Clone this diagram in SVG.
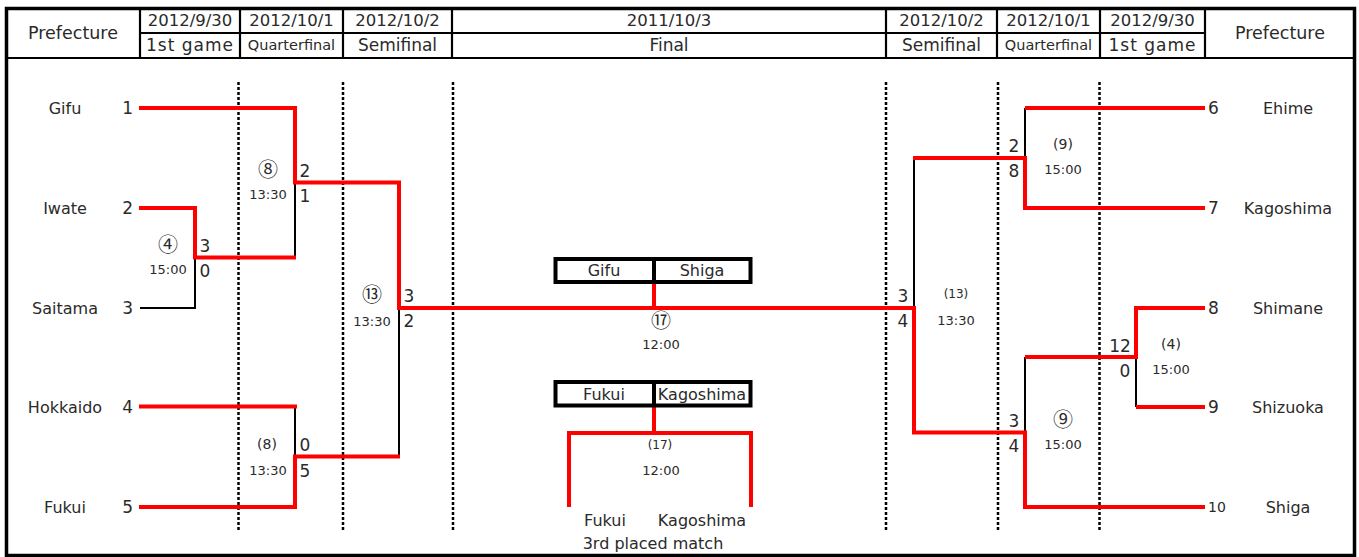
<svg xmlns="http://www.w3.org/2000/svg" width="1359" height="557" viewBox="0 0 1359 557">
<style>
text{font-family:"DejaVu Sans","Noto Sans CJK JP",sans-serif;fill:#2a2a2a;}
.hd{font-size:16.5px;text-anchor:middle;}
.h2{font-size:17px;text-anchor:middle;}
.qf{font-size:14.5px;text-anchor:middle;}
.pf{font-size:17.5px;text-anchor:middle;}
.nm{font-size:16px;text-anchor:middle;}
.nl{font-size:17px;text-anchor:end;}
.nr{font-size:17px;text-anchor:start;}
.sc{font-size:17px;text-anchor:middle;}
.tm{font-size:13px;text-anchor:middle;}
.cn{font-size:20px;text-anchor:middle;font-family:"Noto Sans CJK JP","DejaVu Sans",sans-serif;}
.pn{font-size:14px;text-anchor:middle;}
.ps{font-size:12px;text-anchor:middle;}
.grid{stroke:#000;stroke-width:2.5;stroke-dasharray:3 2;fill:none;}
.hl{stroke:#000;stroke-width:2.2;fill:none;}
.red{stroke:#ff0000;stroke-width:4;fill:none;stroke-linejoin:miter;}
.blk{stroke:#000;stroke-width:2;fill:none;}
.box{stroke:#000;stroke-width:4;fill:#fff;}
</style>
<rect width="1359" height="557" fill="#fff"/>
<g id="header">
<rect x="6.5" y="8.5" width="1348" height="547" fill="none" stroke="#000" stroke-width="3.5"/>
<line class="hl" x1="6" y1="58" x2="1355" y2="58" stroke-width="3"/>
<line class="hl" x1="140" y1="33" x2="1205" y2="33"/>
<line class="hl" x1="140" y1="8" x2="140" y2="58"/>
<line class="hl" x1="240" y1="8" x2="240" y2="58"/>
<line class="hl" x1="343" y1="8" x2="343" y2="58"/>
<line class="hl" x1="452" y1="8" x2="452" y2="58"/>
<line class="hl" x1="886" y1="8" x2="886" y2="58"/>
<line class="hl" x1="997" y1="8" x2="997" y2="58"/>
<line class="hl" x1="1100" y1="8" x2="1100" y2="58"/>
<line class="hl" x1="1205" y1="8" x2="1205" y2="58"/>
<text class="pf" x="73" y="39">Prefecture</text>
<text class="pf" x="1280" y="39">Prefecture</text>
<text class="hd" x="190" y="26">2012/9/30</text>
<text class="hd" x="291.5" y="26">2012/10/1</text>
<text class="hd" x="397.5" y="26">2012/10/2</text>
<text class="hd" x="669" y="26">2011/10/3</text>
<text class="hd" x="941.5" y="26">2012/10/2</text>
<text class="hd" x="1048.5" y="26">2012/10/1</text>
<text class="hd" x="1152.5" y="26">2012/9/30</text>
<text class="h2" x="190" y="51" letter-spacing="1">1st game</text>
<text class="qf" x="291.5" y="50">Quarterfinal</text>
<text class="h2" x="397.5" y="51">Semifinal</text>
<text class="h2" x="669" y="51">Final</text>
<text class="h2" x="941.5" y="51">Semifinal</text>
<text class="qf" x="1048.5" y="50">Quarterfinal</text>
<text class="h2" x="1152.5" y="51" letter-spacing="1">1st game</text>
</g>
<g id="grid">
<line class="grid" x1="238.5" y1="82" x2="238.5" y2="530"/>
<line class="grid" x1="343" y1="82" x2="343" y2="530"/>
<line class="grid" x1="453" y1="82" x2="453" y2="530"/>
<line class="grid" x1="886" y1="82" x2="886" y2="530"/>
<line class="grid" x1="998" y1="82" x2="998" y2="530"/>
<line class="grid" x1="1099.5" y1="82" x2="1099.5" y2="530"/>
</g>
<g id="connectors">
<path class="blk" d="M140,308 H195 V257.5"/>
<path class="blk" d="M295,182.5 V257.5"/>
<path class="blk" d="M295,406.5 V456.5"/>
<path class="blk" d="M399,308 V456.5"/>
<path class="blk" d="M914,158 V308"/>
<path class="blk" d="M1025,108 V158"/>
<path class="blk" d="M1025,357 V432"/>
<path class="blk" d="M1136,357 V407"/>
<path class="red" d="M139,108 H295 V182.5 H399 V308 H914 V432.5 H1025 V507 H1205"/>
<path class="red" d="M139,208 H195 V257.5 H296"/>
<path class="red" d="M139,406.5 H297" stroke-width="5"/>
<path class="red" d="M139,507 H295 V456.5 H400"/>
<path class="red" d="M1025,108 H1205"/>
<path class="red" d="M913,158 H1025 V208 H1205"/>
<path class="red" d="M1025,357 H1136 V308 H1205"/>
<path class="red" d="M1136,407 H1205"/>
<path class="red" d="M654,283 V308"/>
<path class="red" d="M654,406 V433"/>
<path class="red" d="M569,507 V433 H751 V507"/>
</g>
<g id="team-gifu"><text class="nm" x="65" y="114">Gifu</text><text class="nl" x="133" y="114">1</text></g>
<g id="team-iwate"><text class="nm" x="65" y="214">Iwate</text><text class="nl" x="133" y="214">2</text></g>
<g id="team-saitama"><text class="nm" x="65" y="314">Saitama</text><text class="nl" x="133" y="314">3</text></g>
<g id="team-hokkaido"><text class="nm" x="65" y="413">Hokkaido</text><text class="nl" x="133" y="413">4</text></g>
<g id="team-fukui"><text class="nm" x="65" y="513">Fukui</text><text class="nl" x="133" y="513">5</text></g>
<g id="team-ehime"><text class="nr" x="1208" y="114">6</text><text class="nm" x="1288" y="114">Ehime</text></g>
<g id="team-kagoshima"><text class="nr" x="1208" y="214">7</text><text class="nm" x="1288" y="214">Kagoshima</text></g>
<g id="team-shimane"><text class="nr" x="1208" y="314">8</text><text class="nm" x="1288" y="314">Shimane</text></g>
<g id="team-shizuoka"><text class="nr" x="1208" y="413">9</text><text class="nm" x="1288" y="413">Shizuoka</text></g>
<g id="team-shiga"><text class="nr" x="1208" y="512" style="font-size:14px">10</text><text class="nm" x="1288" y="513">Shiga</text></g>
<g id="match-l4"><text class="cn" x="168" y="251.5">④</text><text class="tm" x="168" y="274">15:00</text><text class="sc" x="205" y="252">3</text><text class="sc" x="205" y="277">0</text></g>
<g id="match-l8a"><text class="cn" x="268" y="176.5">⑧</text><text class="tm" x="268" y="199">13:30</text><text class="sc" x="305" y="177">2</text><text class="sc" x="305" y="202">1</text></g>
<g id="match-l8b"><text class="pn" x="267" y="449">(8)</text><text class="tm" x="268" y="475">13:30</text><text class="sc" x="305" y="451">0</text><text class="sc" x="305" y="477">5</text></g>
<g id="match-l13"><text class="cn" x="372" y="301.5">⑬</text><text class="tm" x="372" y="326">13:30</text><text class="sc" x="409" y="302">3</text><text class="sc" x="409" y="327">2</text></g>
<g id="match-r9a"><text class="pn" x="1063" y="149">(9)</text><text class="tm" x="1063" y="174">15:00</text><text class="sc" x="1014" y="152">2</text><text class="sc" x="1014" y="177">8</text></g>
<g id="match-r13"><text class="ps" x="956" y="298">(13)</text><text class="tm" x="956" y="325">13:30</text><text class="sc" x="903" y="302">3</text><text class="sc" x="903" y="327">4</text></g>
<g id="match-r4"><text class="pn" x="1171" y="349">(4)</text><text class="tm" x="1171" y="374">15:00</text><text class="sc" x="1120" y="352">12</text><text class="sc" x="1125" y="377">0</text></g>
<g id="match-r9b"><text class="cn" x="1063" y="426.5">⑨</text><text class="tm" x="1063" y="449">15:00</text><text class="sc" x="1014" y="427">3</text><text class="sc" x="1014" y="452">4</text></g>
<g id="final">
<rect class="box" x="555.5" y="259" width="195" height="23"/>
<line x1="654" y1="259" x2="654" y2="282" stroke="#000" stroke-width="4"/>
<text class="nm" x="604" y="276">Gifu</text><text class="nm" x="702" y="276">Shiga</text>
<text class="cn" x="661" y="327.5">⑰</text><text class="tm" x="661" y="349">12:00</text>
</g>
<g id="third-place">
<rect class="box" x="555.5" y="382" width="195" height="23.5"/>
<line x1="654" y1="382" x2="654" y2="405.5" stroke="#000" stroke-width="4"/>
<text class="nm" x="604" y="400">Fukui</text><text class="nm" x="702" y="400">Kagoshima</text>
<text class="ps" x="660" y="449">(17)</text><text class="tm" x="661" y="475">12:00</text>
<text class="nm" x="605" y="526">Fukui</text><text class="nm" x="702" y="526">Kagoshima</text>
<text class="nm" x="653" y="549">3rd placed match</text>
</g>
</svg>
